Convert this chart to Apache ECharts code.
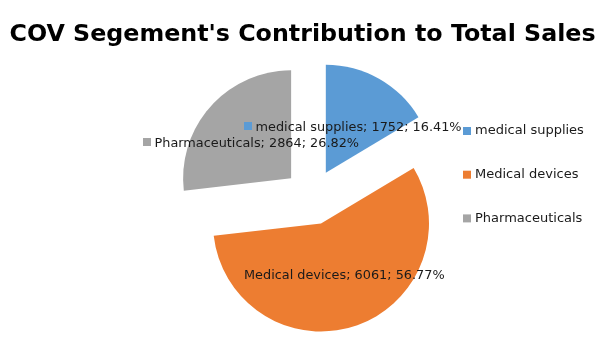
<!DOCTYPE html>
<html><head><meta charset="utf-8">
<script src="https://cdn.jsdelivr.net/npm/echarts@6/dist/echarts.min.js"></script>
<style>html,body{margin:0;padding:0;background:#fff}#c{width:605px;height:340px}</style>
</head><body><div id="c"></div>
<script>
var categories = ['medical supplies', 'Medical devices', 'Pharmaceuticals'];
var values = [1752, 6061, 2864];
var percents = ['16.41%', '56.77%', '26.82%'];
var colors = ['#5B9BD5', '#ED7D31', '#A5A5A5'];
var titleText = "COV Segement's Contribution to Total Sales";

// label anchor: [markerLeft, centerY, hasMarker]
var labelPos = [[244, 126, true], [244, 274, false], [143, 142, true]];

var chart = echarts.init(document.getElementById('c'));
var data = categories.map(function (c, i) {
  return { name: c, value: values[i], selected: true, itemStyle: { color: colors[i] } };
});

var graphics = [];
categories.forEach(function (c, i) {
  var lp = labelPos[i];
  var tx = lp[0];
  if (lp[2]) {
    graphics.push({ type: 'rect', z: 100, shape: { x: lp[0], y: lp[1] - 4, width: 8, height: 8 }, style: { fill: colors[i] }, silent: true });
    tx = lp[0] + 11.5;
  }
  graphics.push({
    type: 'text', z: 100, x: tx, y: lp[1] + 1.5, silent: true,
    style: {
      text: c + '; ' + values[i] + '; ' + percents[i],
      font: '12.85px "DejaVu Sans"', fill: '#1a1a1a',
      align: 'left', verticalAlign: 'middle'
    }
  });
});

chart.setOption({
  animation: false,
  title: {
    text: titleText, left: 'center', top: 18,
    textStyle: { fontFamily: 'DejaVu Sans', fontWeight: 'bold', fontSize: 23.75, color: '#000' }
  },
  legend: {
    orient: 'vertical', left: 463, top: 124.5, itemGap: 30.7, padding: 0,
    icon: 'rect', itemWidth: 8, itemHeight: 8,
    selectedMode: false,
    textStyle: { fontFamily: 'DejaVu Sans', fontSize: 13, color: '#1a1a1a', padding: [0, 0, 0, -1] },
    data: categories
  },
  series: [{
    type: 'pie', center: [312, 197], radius: 108, startAngle: 90, clockwise: true,
    selectedMode: 'multiple', selectedOffset: 28,
    emphasis: { disabled: true },
    label: { show: false },
    labelLine: { show: false },
    data: data
  }],
  graphic: { elements: graphics }
});
</script></body></html>
